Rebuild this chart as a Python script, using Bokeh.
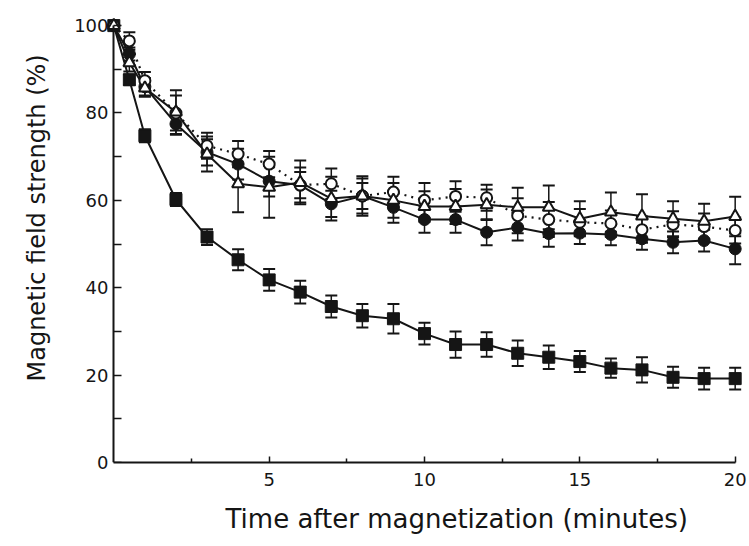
from bokeh.plotting import figure
from bokeh.models import Range1d, LinearAxis, FixedTicker, Whisker, TeeHead, ColumnDataSource, Title
from bokeh.embed import file_html
from bokeh.resources import INLINE

# ---- data ----
times = [0, 0.5, 1, 2, 3, 4, 5, 6, 7, 8, 9, 10, 11, 12, 13, 14, 15, 16, 17, 18, 19, 20]

sq_vals = [100, 87.6, 74.8, 60.2, 51.6, 46.4, 41.8, 39.0, 35.7, 33.6, 32.9, 29.5, 27.0, 27.0, 25.0, 24.1, 23.1, 21.6, 21.2, 19.5, 19.2, 19.2]
sq_err = [0, 1.2, 1.5, 1.5, 1.8, 2.4, 2.5, 2.6, 2.5, 2.7, 3.4, 2.5, 3.0, 2.8, 2.9, 2.7, 2.4, 2.2, 2.9, 2.4, 2.5, 2.5]

fc_vals = [100, 93.5, 86.0, 77.5, 71.0, 68.3, 64.4, 63.5, 59.2, 61.0, 58.4, 55.6, 55.6, 52.7, 53.8, 52.4, 52.5, 52.2, 51.2, 50.4, 50.8, 48.9]
fc_err = [0, 1.5, 2.0, 2.5, 3.0, 3.5, 3.5, 3.0, 3.0, 3.0, 3.5, 3.0, 3.0, 3.0, 3.0, 3.0, 2.5, 2.5, 2.5, 2.5, 2.5, 3.5]

oc_vals = [100, 96.5, 87.4, 80.0, 72.5, 70.6, 68.3, 63.5, 63.8, 61.0, 61.9, 60.0, 60.9, 60.6, 56.5, 55.6, 55.0, 54.7, 53.3, 54.5, 54.0, 53.1]
oc_err = [0, 2.0, 2.0, 4.0, 3.0, 3.0, 3.0, 4.0, 3.5, 4.0, 3.5, 4.0, 3.5, 3.0, 4.0, 4.0, 3.0, 3.0, 3.0, 3.0, 3.0, 3.0]

tr_vals = [100, 91.5, 85.7, 80.2, 70.6, 63.8, 63.0, 64.1, 60.4, 61.0, 60.0, 58.6, 58.6, 59.0, 58.4, 58.4, 55.8, 57.3, 56.4, 55.8, 55.2, 56.3]
tr_err = [0, 2.0, 2.0, 5.0, 4.0, 6.5, 7.0, 5.0, 5.0, 4.5, 4.0, 3.5, 4.0, 3.5, 4.5, 5.0, 4.0, 4.5, 5.0, 4.0, 4.0, 4.5]

x_ticks = [5, 10, 15, 20]
x_minor = [2.5, 7.5, 12.5, 17.5]
y_ticks = [0, 20, 40, 60, 80, 100]
y_minor = [10, 30, 50, 70, 90]

x_title = "Time after magnetization (minutes)"
y_title = "Magnetic field strength (%)"

INK = "#151515"

p = figure(width=749, height=546, x_range=Range1d(-0.3, 20.3), y_range=Range1d(0, 103),
           output_backend="svg", toolbar_location=None, x_axis_type=None, y_axis_type=None,
           title=None,
           min_border_left=104, min_border_right=5, min_border_top=12, min_border_bottom=84)
p.outline_line_color = None
p.background_fill_color = "white"
p.border_fill_color = "white"


def style_axis(ax):
    ax.axis_line_width = 2
    ax.axis_line_color = INK
    ax.major_tick_line_color = INK
    ax.minor_tick_line_color = INK
    ax.major_tick_line_width = 1.5
    ax.minor_tick_line_width = 1.5
    ax.major_label_text_font = "DejaVu Sans"
    ax.major_label_text_font_size = "18px"
    ax.major_label_text_color = INK
    ax.major_tick_out = 0
    ax.minor_tick_out = 0


# x axis (frame bottom is y = 0)
xaxis = LinearAxis(ticker=FixedTicker(ticks=x_ticks, minor_ticks=x_minor), bounds=(0, 20))
style_axis(xaxis)
xaxis.major_tick_in = 6
xaxis.minor_tick_in = 4
xaxis.major_label_standoff = 10
p.add_layout(xaxis, "below")

# y axis line + ticks, placed at x = 0 (no labels: all ticks drawn as minor ticks)
yline = LinearAxis(ticker=FixedTicker(ticks=[], minor_ticks=sorted(y_ticks + y_minor)),
                   bounds=(0, 100), fixed_location=0)
style_axis(yline)
yline.major_tick_in = 8
yline.minor_tick_in = 8
yline.major_label_standoff = 0
p.add_layout(yline, "left")

# y tick labels
ylab = LinearAxis(ticker=FixedTicker(ticks=y_ticks, minor_ticks=[]), bounds=(0, 100))
style_axis(ylab)
ylab.axis_line_color = None
ylab.major_tick_line_color = None
ylab.minor_tick_line_color = None
ylab.major_tick_in = 0
ylab.minor_tick_in = 0
ylab.major_label_standoff = -4
p.add_layout(ylab, "left")

# axis titles
tx = Title(text=x_title, align="left", offset=121, standoff=26,
           text_font="DejaVu Sans", text_font_size="26px", text_font_style="normal",
           text_color=INK, text_line_height=1.0)
p.add_layout(tx, "below")
ty = Title(text=y_title, align="left", offset=81, standoff=41,
           text_font="DejaVu Sans", text_font_size="24px", text_font_style="normal",
           text_color=INK, text_line_height=1.0)
p.add_layout(ty, "left")


def series(vals, errs):
    return ColumnDataSource(dict(x=times, y=vals,
                                 lo=[v - e for v, e in zip(vals, errs)],
                                 hi=[v + e for v, e in zip(vals, errs)]))


src_sq = series(sq_vals, sq_err)
src_fc = series(fc_vals, fc_err)
src_oc = series(oc_vals, oc_err)
src_tr = series(tr_vals, tr_err)

# lines
p.line("x", "y", source=src_sq, line_color=INK, line_width=2)
p.line("x", "y", source=src_fc, line_color=INK, line_width=2)
p.line("x", "y", source=src_tr, line_color=INK, line_width=2)
p.line("x", "y", source=src_oc, line_color=INK, line_width=2.2, line_dash="2 5")

# error bars
for s in (src_sq, src_fc, src_oc, src_tr):
    w = Whisker(base="x", lower="lo", upper="hi", source=s, line_color=INK, line_width=1.5,
                upper_head=TeeHead(size=12, line_color=INK, line_width=2),
                lower_head=TeeHead(size=12, line_color=INK, line_width=2))
    p.add_layout(w)

# markers
p.scatter("x", "y", source=src_sq, marker="square", size=12, fill_color=INK, line_color=INK)
p.scatter("x", "y", source=src_fc, marker="circle", size=12, fill_color=INK, line_color=INK)
p.scatter("x", "y", source=src_oc, marker="circle", size=11, fill_color="white", line_color=INK, line_width=2)
p.scatter("x", "y", source=src_tr, marker="triangle", size=12, fill_color="white", line_color=INK, line_width=2)

open("out.html", "w").write(file_html(p, INLINE))
